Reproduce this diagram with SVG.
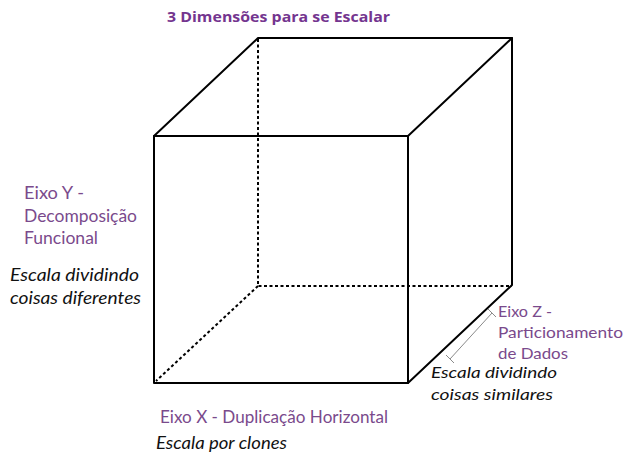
<svg xmlns="http://www.w3.org/2000/svg" width="639" height="461" viewBox="0 0 639 461">
<style>
.edge{stroke:#000;stroke-width:2;fill:none;stroke-linecap:round;stroke-linejoin:round}
.hid{stroke:#000;stroke-width:2;fill:none;stroke-dasharray:3 2.5}
.lbl{font-family:Lato,"Open Sans","Liberation Sans",sans-serif;font-size:17px;fill:#7a4a8c}
.note{font-family:Lato,"Open Sans","Liberation Sans",sans-serif;font-size:17px;font-style:italic;fill:#111}
.sm{font-size:16px}
.title{font-family:"Open Sans","Liberation Sans",sans-serif;font-size:15px;font-weight:bold;fill:#74358f}
.dim{stroke:#8a8a8a;stroke-width:1;fill:none}
</style>
<rect width="639" height="461" fill="#fff"/>
<g id="title"><text class="title" x="167" y="22" textLength="223" lengthAdjust="spacingAndGlyphs">3 Dimensões para se Escalar</text></g>
<g id="connectors">
<g id="cube">
<path class="hid" d="M258,39 V286 H512"/>
<path class="hid" d="M258,286 L156,381"/>
<path class="edge" d="M154,136 H408 V383 H154 Z"/>
<path class="edge" d="M154,136 L258,38 H512 L408,136"/>
<path class="edge" d="M512,38 V285 L408,383"/>
</g>
<g id="z-dimension">
<path class="dim" d="M492,313 L450,359"/>
<path class="dim" d="M488,309 L496,317"/>
<path class="dim" d="M446,355 L454,363"/>
</g>
</g>
<g id="axis-y">
<text class="lbl" x="24" y="199" textLength="60" lengthAdjust="spacingAndGlyphs">Eixo Y -</text>
<text class="lbl" x="24" y="222" textLength="113" lengthAdjust="spacingAndGlyphs">Decomposição</text>
<text class="lbl" x="24" y="244" textLength="74" lengthAdjust="spacingAndGlyphs">Funcional</text>
<text class="note" x="10" y="281" textLength="129" lengthAdjust="spacingAndGlyphs">Escala dividindo</text>
<text class="note" x="10" y="304" textLength="131" lengthAdjust="spacingAndGlyphs">coisas diferentes</text>
</g>
<g id="axis-z">
<text class="lbl sm" x="498" y="317" textLength="54" lengthAdjust="spacingAndGlyphs">Eixo Z -</text>
<text class="lbl sm" x="498" y="338" textLength="125" lengthAdjust="spacingAndGlyphs">Particionamento</text>
<text class="lbl sm" x="498" y="359" textLength="70" lengthAdjust="spacingAndGlyphs">de Dados</text>
<text class="note sm" x="431" y="378" textLength="126" lengthAdjust="spacingAndGlyphs">Escala dividindo</text>
<text class="note sm" x="431" y="400" textLength="122" lengthAdjust="spacingAndGlyphs">coisas similares</text>
</g>
<g id="axis-x">
<text class="lbl" x="160" y="423" textLength="228" lengthAdjust="spacingAndGlyphs">Eixo X - Duplicação Horizontal</text>
<text class="note" x="156" y="449" textLength="131" lengthAdjust="spacingAndGlyphs">Escala por clones</text>
</g>
</svg>
